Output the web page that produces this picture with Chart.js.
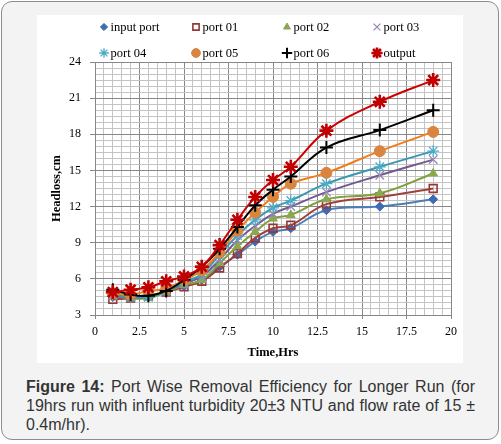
<!DOCTYPE html>
<html>
<head>
<meta charset="utf-8">
<script src="https://cdn.jsdelivr.net/npm/chart.js"></script>
<style>
  html, body { margin: 0; padding: 0; background: #fff; }
  body { width: 501px; height: 444px; position: relative; overflow: hidden; }
  #frame {
    position: absolute; left: 1px; top: 1px; width: 496px; height: 437px;
    border: 1.5px solid #8c8c8c; border-radius: 11px; background: #f2f3f2;
  }
  #plot {
    position: absolute; left: 37px; top: 15px; width: 426px; height: 348px;
    background: #fff;
  }
  #caption {
    position: absolute; left: 26px; top: 377px; width: 449px;
    font: 16px "Liberation Sans", Arial, sans-serif; line-height: 19px;
    color: #333; text-align: justify;
  }
</style>
</head>
<body>
<div id="frame"></div>
<div id="plot"><canvas id="headlossChart"></canvas></div>
<div id="caption"><b>Figure 14:</b> Port Wise Removal Efficiency for Longer Run (for 19hrs run with influent turbidity 20±3 NTU and flow rate of 15 ± 0.4m/hr).</div>

<script>
// data
const hours = [1, 2, 3, 4, 5, 6, 7, 8, 9, 10, 11, 13, 16, 19];
const seriesNames = ['input port', 'port 01', 'port 02', 'port 03', 'port 04', 'port 05', 'port 06', 'output'];

const inputPort = [4.5, 4.4, 4.5, 4.9, 5.4, 5.9, 7.0, 8.0, 9.1, 9.9, 10.2, 11.7, 12.0, 12.6];
const port01    = [4.3, 4.4, 4.6, 4.9, 5.35, 5.8, 6.9, 8.1, 9.4, 10.2, 10.45, 12.2, 12.8, 13.5];
const port02    = [4.6, 4.4, 4.4, 4.9, 5.5, 5.9, 7.3, 8.7, 9.9, 11.0, 11.3, 12.6, 13.1, 14.75];
const port03    = [4.6, 4.5, 4.5, 5.0, 5.6, 6.2, 7.6, 9.2, 10.4, 11.4, 12.0, 13.2, 14.6, 15.9];
const port04    = [4.7, 4.5, 4.5, 5.0, 5.7, 6.4, 8.0, 9.6, 10.9, 11.9, 12.5, 13.9, 15.3, 16.6];
const port05    = [4.8, 4.7, 5.0, 5.2, 5.9, 6.7, 8.2, 10.0, 11.5, 12.8, 13.9, 14.8, 16.6, 18.2];
const port06    = [5.1, 4.7, 4.6, 5.0, 5.9, 7.0, 8.5, 10.3, 12.1, 13.4, 14.5, 16.9, 18.35, 20.0];
const output    = [4.9, 5.1, 5.3, 5.8, 6.2, 7.0, 8.8, 10.9, 12.8, 14.2, 15.3, 18.3, 20.7, 22.5];

const allSeries = [inputPort, port01, port02, port03, port04, port05, port06, output];

const xTicksMajor = 2.5, yTicksMajor = 3;

// marker / line styles per series
const styles = [
  { line: '#4a7ebb', mark: '#3f6bb0', fill: '#3f6bb0', shape: 'rectRot',  r: 4.5, bw: 1 },
  { line: '#a0403d', mark: '#953735', fill: 'rgba(255,255,255,0)', shape: 'rect', r: 5.5, bw: 1.6 },
  { line: '#7f9f3c', mark: '#8aa84d', fill: '#8aa84d', shape: 'triangle', r: 5, bw: 1 },
  { line: '#6f5a92', mark: '#9a84b6', fill: '#9a84b6', shape: 'crossRot', r: 6, bw: 1.3 },
  { line: '#3a97b3', mark: '#4bacc6', fill: '#4bacc6', shape: 'star',     r: 6, bw: 1.3 },
  { line: '#f07d1a', mark: '#d9843f', fill: '#d9843f', shape: 'circle',   r: 5.5, bw: 1 },
  { line: '#000000', mark: '#000000', fill: '#000000', shape: 'cross',    r: 6.5, bw: 2 },
  { line: '#cc0000', mark: '#c00000', fill: '#c00000', shape: 'star',     r: 7, bw: 2.6 }
];

const datasets = allSeries.map((vals, i) => ({
  label: seriesNames[i],
  data: hours.map((h, j) => ({ x: h, y: vals[j] })),
  borderColor: styles[i].line,
  borderWidth: 2,
  tension: 0.4,
  pointStyle: styles[i].shape,
  pointRadius: styles[i].r,
  pointBorderColor: styles[i].mark,
  pointBackgroundColor: styles[i].fill,
  pointBorderWidth: styles[i].bw,
  order: allSeries.length - i
}));

// legend drawn in a fixed 4-column grid, like the original
const legendCols = [67, 159, 250, 340];
const legendRows = [12, 38];
const serif = '"Liberation Serif", "Times New Roman", serif';
const gridLegend = {
  id: 'gridLegend',
  afterDraw(chart) {
    const c = chart.ctx;
    c.save();
    c.font = '12.5px ' + serif;
    c.textBaseline = 'middle';
    c.fillStyle = '#000';
    seriesNames.forEach((name, i) => {
      const x = legendCols[i % 4], y = legendRows[Math.floor(i / 4)];
      const st = styles[i];
      c.save();
      c.strokeStyle = st.mark;
      c.fillStyle = st.fill;
      c.lineWidth = st.bw;
      Chart.helpers.drawPoint(c, { pointStyle: st.shape, radius: st.r * 0.8, rotation: 0, borderWidth: st.bw }, x, y);
      c.restore();
      c.fillText(name, x + 6.5, y + 1);
    });
    c.restore();
  }
};

const tickFont = { family: serif, size: 12 };
const titleFont = { family: serif, size: 12.5, weight: 'bold' };
const majorGrid = '#878787', minorGrid = '#c4c4c4';

new Chart(document.getElementById('headlossChart'), {
  type: 'line',
  data: { datasets },
  options: {
    responsive: true,
    maintainAspectRatio: false,
    animation: false,
    layout: { padding: { top: 47, right: 12, left: 0, bottom: 0 } },
    plugins: { legend: { display: false }, tooltip: { enabled: false } },
    scales: {
      x: {
        type: 'linear', min: 0, max: 20,
        afterFit(scale) { scale.height = 48; },
        ticks: {
          stepSize: 0.5, maxTicksLimit: 100, autoSkip: false, maxRotation: 0,
          padding: 6, color: '#000', font: tickFont,
          callback: v => (v % xTicksMajor === 0 ? v : '')
        },
        grid: {
          tickLength: 4,
          color: c => (c.tick && c.tick.value % xTicksMajor === 0 ? majorGrid : minorGrid),
          tickColor: c => (c.tick && c.tick.value % xTicksMajor === 0 ? majorGrid : 'rgba(0,0,0,0)')
        },
        border: { color: majorGrid },
        title: { display: true, text: 'Time,Hrs', color: '#000', font: titleFont, padding: { top: 0, bottom: 3 } }
      },
      y: {
        type: 'linear', min: 3, max: 24,
        afterFit(scale) { scale.width = 58; },
        ticks: {
          stepSize: 0.5, maxTicksLimit: 100, autoSkip: false,
          padding: 9, color: '#000', font: tickFont,
          callback: v => (v % yTicksMajor === 0 ? v : '')
        },
        grid: {
          tickLength: 5,
          color: c => (c.tick && c.tick.value % yTicksMajor === 0 ? majorGrid : minorGrid),
          tickColor: c => (c.tick && c.tick.value % yTicksMajor === 0 ? majorGrid : 'rgba(0,0,0,0)')
        },
        border: { color: majorGrid },
        title: { display: true, text: 'Headloss,cm', color: '#000', font: titleFont, padding: { top: 12.5, bottom: 0 } }
      }
    }
  },
  plugins: [gridLegend]
});
</script>
</body>
</html>
